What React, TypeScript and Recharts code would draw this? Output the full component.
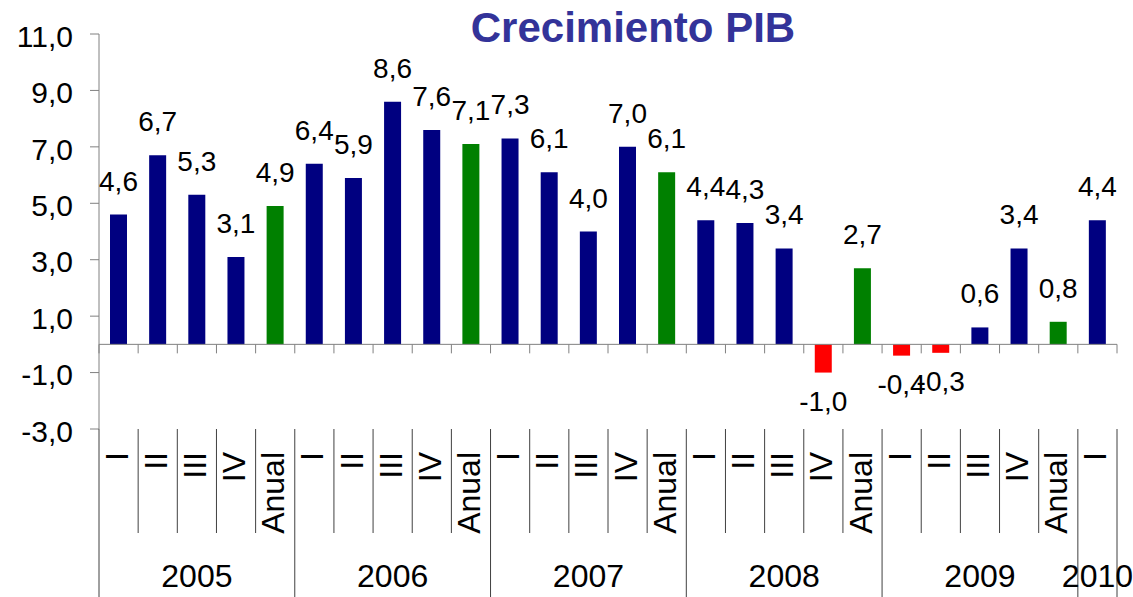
import React from 'react';
import { BarChart, Bar, XAxis, YAxis, Cell, LabelList, ReferenceLine } from 'recharts';

const FONT = "'Liberation Sans', Arial, Helvetica, sans-serif";

const periodLabels = [
  'I', 'II', 'III', 'IV', 'Anual',
  'I', 'II', 'III', 'IV', 'Anual',
  'I', 'II', 'III', 'IV', 'Anual',
  'I', 'II', 'III', 'IV', 'Anual',
  'I', 'II', 'III', 'IV', 'Anual',
  'I',
];
const periodYears = [
  '2005', '2005', '2005', '2005', '2005',
  '2006', '2006', '2006', '2006', '2006',
  '2007', '2007', '2007', '2007', '2007',
  '2008', '2008', '2008', '2008', '2008',
  '2009', '2009', '2009', '2009', '2009',
  '2010',
];
const growth = [
  4.6, 6.7, 5.3, 3.1, 4.9,
  6.4, 5.9, 8.6, 7.6, 7.1,
  7.3, 6.1, 4.0, 7.0, 6.1,
  4.4, 4.3, 3.4, -1.0, 2.7,
  -0.4, -0.3, 0.6, 3.4, 0.8,
  4.4,
];
const yTicks = [-3, -1, 1, 3, 5, 7, 9, 11];
const title = 'Crecimiento PIB';

const COLOR_QUARTER = '#000080';
const COLOR_ANNUAL = '#008000';
const COLOR_NEGATIVE = '#FF0000';

const data = growth.map((v, i) => ({
  key: `${periodYears[i]}-${periodLabels[i]}-${i}`,
  period: periodLabels[i],
  year: periodYears[i],
  value: v,
}));

const W = 1133;
const H = 597;
const PLOT_LEFT = 99;
const PLOT_RIGHT = 1117;
const BAND = (PLOT_RIGHT - PLOT_LEFT) / growth.length;

const fmt = (v: number) => v.toFixed(1).replace('.', ',');

const barColor = (d: { period: string; value: number }) =>
  d.period === 'Anual' ? COLOR_ANNUAL : d.value < 0 ? COLOR_NEGATIVE : COLOR_QUARTER;

const CategoryTick = (props: any) => {
  const { x, y, payload } = props;
  const i: number = props.index ?? payload.index;
  const d = data[i];
  if (!d) return null;
  const left = x - BAND / 2;
  const firstOfYear = i === 0 || data[i - 1].year !== d.year;
  const last = i === data.length - 1;
  const span = data.filter((e) => e.year === d.year).length;
  return (
    <g>
      <line x1={left} x2={left} y1={y} y2={firstOfYear ? y + 168 : y + 104} stroke="#404040" strokeWidth={1} />
      {last && (
        <line x1={x + BAND / 2} x2={x + BAND / 2} y1={y} y2={y + 168} stroke="#404040" strokeWidth={1} />
      )}
      <text
        transform={`translate(${x + 9},${y + 23}) rotate(-90)`}
        textAnchor="end"
        fontSize={32}
        fontFamily={FONT}
        fill="#000"
      >
        {d.period}
      </text>
      {firstOfYear && (
        <text x={left + (span * BAND) / 2} y={y + 158} textAnchor="middle" fontSize={32} fontFamily={FONT} fill="#000">
          {d.year}
        </text>
      )}
    </g>
  );
};

const ZeroAxis = (props: any) => {
  const { x1, y1, x2 } = props;
  const n = growth.length;
  const step = (x2 - x1) / n;
  return (
    <g>
      <line x1={x1} x2={x2} y1={y1} y2={y1} stroke="#808080" strokeWidth={1} />
      {Array.from({ length: n + 1 }, (_, k) => (
        <line key={k} x1={x1 + k * step} x2={x1 + k * step} y1={y1} y2={y1 + 9} stroke="#808080" strokeWidth={1} />
      ))}
    </g>
  );
};

const ValueLabel = (props: any) => {
  const vb = props.viewBox || {};
  const x = props.x ?? vb.x;
  const y = props.y ?? vb.y;
  const width = props.width ?? vb.width;
  const height = props.height ?? vb.height;
  const value = Number(props.value);
  if (x == null || y == null) return null;
  const top = Math.min(y, y + height);
  const bottom = Math.max(y, y + height);
  const cx = x + width / 2;
  const ty = value >= 0 ? top - 24 : bottom + 38;
  return (
    <text x={cx} y={ty} textAnchor="middle" fontSize={28} fontFamily={FONT} fill="#000">
      {fmt(value)}
    </text>
  );
};

export default function App() {
  return (
    <div style={{ position: 'absolute', left: 0, top: 0, width: W, height: H, background: '#fff' }}>
      <BarChart width={W} height={H} data={data} margin={{ top: 34, right: W - PLOT_RIGHT, bottom: 0, left: 0 }}>
        <XAxis
          dataKey="key"
          height={168}
          tickSize={0}
          tickMargin={0}
          axisLine={false}
          tickLine={false}
          interval={0}
          tick={(p: any) => <CategoryTick {...p} />}
        />
        <YAxis
          domain={[-3, 11]}
          ticks={yTicks}
          tickFormatter={fmt}
          width={PLOT_LEFT}
          tickSize={9}
          tickMargin={17}
          interval={0}
          allowDataOverflow
          axisLine={{ stroke: '#808080', strokeWidth: 1 }}
          tickLine={{ stroke: '#808080', strokeWidth: 1 }}
          tick={{ fontSize: 30, fill: '#000', fontFamily: FONT, dy: 2 }}
        />
        <Bar dataKey="value" barSize={17} isAnimationActive={false}>
          {data.map((d) => (
            <Cell key={d.key} fill={barColor(d)} />
          ))}
          <LabelList dataKey="value" content={ValueLabel} />
        </Bar>
        <ReferenceLine y={0} shape={(p: any) => <ZeroAxis {...p} />} />
      </BarChart>
      <svg
        width={W}
        height={60}
        style={{ position: 'absolute', left: 0, top: 0, pointerEvents: 'none' }}
      >
        <text x={633} y={42} textAnchor="middle" fontSize={42} fontWeight="bold" fontFamily={FONT} fill="#333399">
          {title}
        </text>
      </svg>
    </div>
  );
}
